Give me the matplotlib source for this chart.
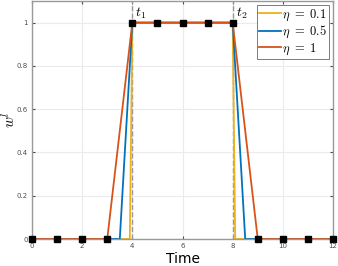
import numpy as np
import matplotlib.pyplot as plt

# data
etas = ["0.1", "0.5", "1"]
colors = ["#EDB120", "#0072BD", "#D95319"]
t_vals = [[0, 3.9, 4, 8, 8.1, 12],
          [0, 3.5, 4, 8, 8.5, 12],
          [0, 3, 4, 8, 9, 12]]
w_vals = [[0, 0, 1, 1, 0, 0],
          [0, 0, 1, 1, 0, 0],
          [0, 0, 1, 1, 0, 0]]
marker_t = np.arange(0, 13)
marker_w = [0, 0, 0, 0, 1, 1, 1, 1, 1, 0, 0, 0, 0]
t_marks = [4, 8]

plt.rcParams['mathtext.fontset'] = 'cm'

fig = plt.figure(figsize=(3.38, 2.66), dpi=100)
ax = fig.add_axes([32 / 338, 27 / 266, 301 / 338, 238 / 266])

for t in t_marks:
    ax.axvline(t, color="0.6", linestyle="--", linewidth=1.0, zorder=1)

for eta, col, tv, wv in zip(etas, colors, t_vals, w_vals):
    ax.plot(tv, wv, color=col, linewidth=1.3, label=r"$\eta\ =\ " + eta + "$",
            zorder=2)

ax.plot(marker_t, marker_w, linestyle="none", marker="s", markersize=4.5,
        color="black", zorder=3, clip_on=False)

ax.text(4.12, 1.03, r"$t_1$", fontsize=10)
ax.text(8.12, 1.03, r"$t_2$", fontsize=10)

ax.set_xlim(0, 12)
ax.set_ylim(0, 1.1)
ax.set_xticks([0, 2, 4, 6, 8, 10, 12])
ax.set_yticks([0, 0.2, 0.4, 0.6, 0.8, 1])
ax.set_yticklabels(["0", "0.2", "0.4", "0.6", "0.8", "1"])
ax.tick_params(labelsize=5, length=2.5, direction="in", colors="0.3",
               top=True, right=True, pad=3)
ax.grid(True, color="0.92", linewidth=0.8)
ax.set_axisbelow(True)
for s in ax.spines.values():
    s.set_color("0.6")
    s.set_linewidth(1.0)

ax.set_xlabel("Time", fontsize=10, labelpad=2)
ax.set_ylabel(r"$w^l$", fontsize=11)
ax.yaxis.set_label_coords(-0.045, 0.5)

leg = ax.legend(loc="upper right", fontsize=9, handlelength=1.7,
                fancybox=False, framealpha=1, borderaxespad=0.3,
                labelspacing=0.1, handletextpad=0.1, borderpad=0.2)
leg.get_frame().set_edgecolor("0.4")
leg.get_frame().set_linewidth(0.6)

plt.savefig("out.png", dpi=100)
